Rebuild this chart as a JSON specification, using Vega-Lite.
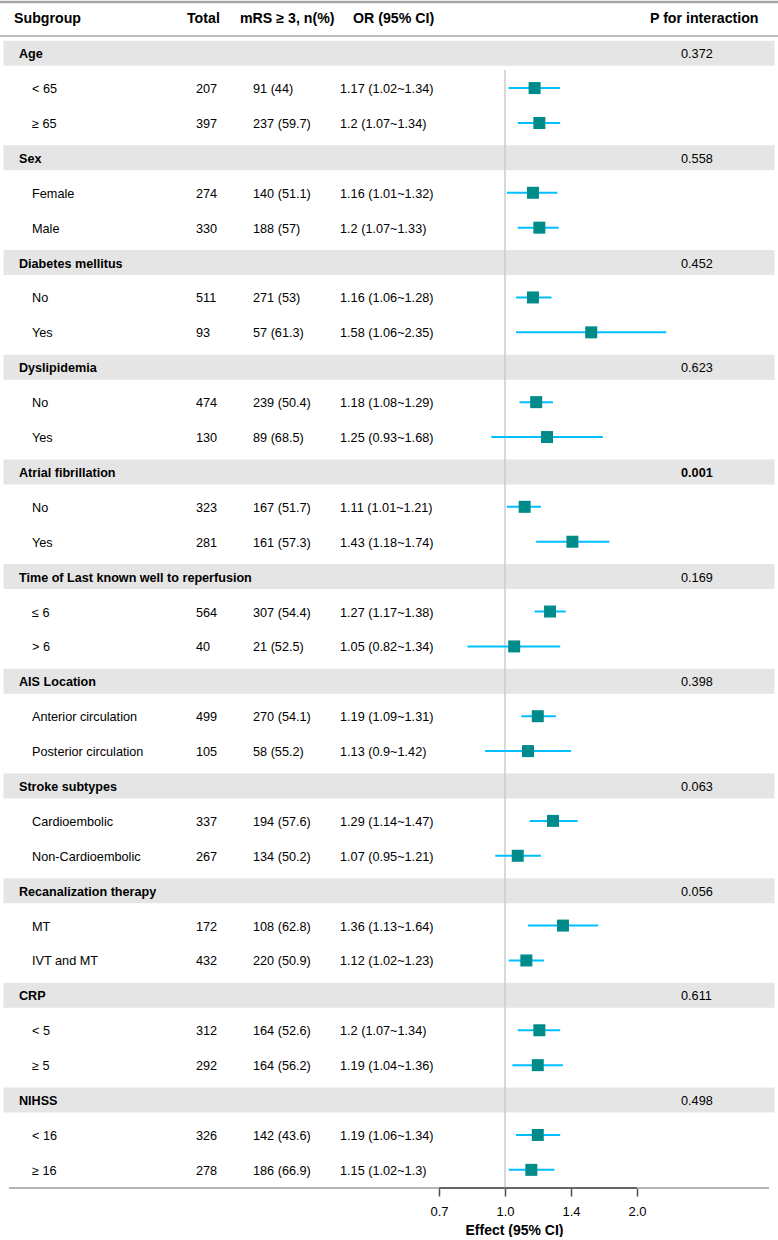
{
  "$schema": "https://vega.github.io/schema/vega-lite/v6.json",
  "width": 778,
  "height": 1188,
  "padding": 0,
  "background": "white",
  "config": {
    "view": {"stroke": null},
    "text": {"font": "Liberation Sans", "dy": 1},
    "axis": {"labelFont": "Liberation Sans", "titleFont": "Liberation Sans"}
  },
  "data": {
    "values": [
      {"row": 0, "kind": "header", "label": "Subgroup", "total": "Total", "mrs": "mRS ≥ 3, n(%)", "ortext": "OR (95% CI)", "p": "P for interaction"},
      {"row": 1, "kind": "group", "label": "Age", "p": "0.372"},
      {"row": 2, "kind": "item", "label": "< 65", "total": 207, "mrs": "91 (44)", "ortext": "1.17 (1.02~1.34)", "or": 1.17, "lo": 1.02, "hi": 1.34},
      {"row": 3, "kind": "item", "label": "≥ 65", "total": 397, "mrs": "237 (59.7)", "ortext": "1.2 (1.07~1.34)", "or": 1.2, "lo": 1.07, "hi": 1.34},
      {"row": 4, "kind": "group", "label": "Sex", "p": "0.558"},
      {"row": 5, "kind": "item", "label": "Female", "total": 274, "mrs": "140 (51.1)", "ortext": "1.16 (1.01~1.32)", "or": 1.16, "lo": 1.01, "hi": 1.32},
      {"row": 6, "kind": "item", "label": "Male", "total": 330, "mrs": "188 (57)", "ortext": "1.2 (1.07~1.33)", "or": 1.2, "lo": 1.07, "hi": 1.33},
      {"row": 7, "kind": "group", "label": "Diabetes mellitus", "p": "0.452"},
      {"row": 8, "kind": "item", "label": "No", "total": 511, "mrs": "271 (53)", "ortext": "1.16 (1.06~1.28)", "or": 1.16, "lo": 1.06, "hi": 1.28},
      {"row": 9, "kind": "item", "label": "Yes", "total": 93, "mrs": "57 (61.3)", "ortext": "1.58 (1.06~2.35)", "or": 1.58, "lo": 1.06, "hi": 2.35},
      {"row": 10, "kind": "group", "label": "Dyslipidemia", "p": "0.623"},
      {"row": 11, "kind": "item", "label": "No", "total": 474, "mrs": "239 (50.4)", "ortext": "1.18 (1.08~1.29)", "or": 1.18, "lo": 1.08, "hi": 1.29},
      {"row": 12, "kind": "item", "label": "Yes", "total": 130, "mrs": "89 (68.5)", "ortext": "1.25 (0.93~1.68)", "or": 1.25, "lo": 0.93, "hi": 1.68},
      {"row": 13, "kind": "group", "label": "Atrial fibrillation", "p": "0.001"},
      {"row": 14, "kind": "item", "label": "No", "total": 323, "mrs": "167 (51.7)", "ortext": "1.11 (1.01~1.21)", "or": 1.11, "lo": 1.01, "hi": 1.21},
      {"row": 15, "kind": "item", "label": "Yes", "total": 281, "mrs": "161 (57.3)", "ortext": "1.43 (1.18~1.74)", "or": 1.43, "lo": 1.18, "hi": 1.74},
      {"row": 16, "kind": "group", "label": "Time of Last known well to reperfusion", "p": "0.169"},
      {"row": 17, "kind": "item", "label": "≤ 6", "total": 564, "mrs": "307 (54.4)", "ortext": "1.27 (1.17~1.38)", "or": 1.27, "lo": 1.17, "hi": 1.38},
      {"row": 18, "kind": "item", "label": "> 6", "total": 40, "mrs": "21 (52.5)", "ortext": "1.05 (0.82~1.34)", "or": 1.05, "lo": 0.82, "hi": 1.34},
      {"row": 19, "kind": "group", "label": "AIS Location", "p": "0.398"},
      {"row": 20, "kind": "item", "label": "Anterior circulation", "total": 499, "mrs": "270 (54.1)", "ortext": "1.19 (1.09~1.31)", "or": 1.19, "lo": 1.09, "hi": 1.31},
      {"row": 21, "kind": "item", "label": "Posterior circulation", "total": 105, "mrs": "58 (55.2)", "ortext": "1.13 (0.9~1.42)", "or": 1.13, "lo": 0.9, "hi": 1.42},
      {"row": 22, "kind": "group", "label": "Stroke subtypes", "p": "0.063"},
      {"row": 23, "kind": "item", "label": "Cardioembolic", "total": 337, "mrs": "194 (57.6)", "ortext": "1.29 (1.14~1.47)", "or": 1.29, "lo": 1.14, "hi": 1.47},
      {"row": 24, "kind": "item", "label": "Non-Cardioembolic", "total": 267, "mrs": "134 (50.2)", "ortext": "1.07 (0.95~1.21)", "or": 1.07, "lo": 0.95, "hi": 1.21},
      {"row": 25, "kind": "group", "label": "Recanalization therapy", "p": "0.056"},
      {"row": 26, "kind": "item", "label": "MT", "total": 172, "mrs": "108 (62.8)", "ortext": "1.36 (1.13~1.64)", "or": 1.36, "lo": 1.13, "hi": 1.64},
      {"row": 27, "kind": "item", "label": "IVT and MT", "total": 432, "mrs": "220 (50.9)", "ortext": "1.12 (1.02~1.23)", "or": 1.12, "lo": 1.02, "hi": 1.23},
      {"row": 28, "kind": "group", "label": "CRP", "p": "0.611"},
      {"row": 29, "kind": "item", "label": "< 5", "total": 312, "mrs": "164 (52.6)", "ortext": "1.2 (1.07~1.34)", "or": 1.2, "lo": 1.07, "hi": 1.34},
      {"row": 30, "kind": "item", "label": "≥ 5", "total": 292, "mrs": "164 (56.2)", "ortext": "1.19 (1.04~1.36)", "or": 1.19, "lo": 1.04, "hi": 1.36},
      {"row": 31, "kind": "group", "label": "NIHSS", "p": "0.498"},
      {"row": 32, "kind": "item", "label": "< 16", "total": 326, "mrs": "142 (43.6)", "ortext": "1.19 (1.06~1.34)", "or": 1.19, "lo": 1.06, "hi": 1.34},
      {"row": 33, "kind": "item", "label": "≥ 16", "total": 278, "mrs": "186 (66.9)", "ortext": "1.15 (1.02~1.3)", "or": 1.15, "lo": 1.02, "hi": 1.3}
    ]
  },
  "encoding": {
    "y": {"field": "row", "type": "quantitative", "scale": {"domain": [-0.524, 33.52], "reverse": true, "nice": false, "zero": false}, "axis": null}
  },
  "layer": [
    {
      "layer": [
        {"transform": [{"filter": "datum.kind === 'group'"}], "mark": {"type": "tick", "orient": "horizontal", "thickness": 25, "size": 771, "color": "#e5e5e5", "opacity": 1}},
        {"transform": [{"filter": "datum.kind === 'header'"}], "mark": {"type": "tick", "orient": "horizontal", "thickness": 2.5, "size": 778, "color": "#a6a6a6", "opacity": 1}, "encoding": {"y": {"datum": -0.47, "type": "quantitative"}}},
        {"transform": [{"filter": "datum.kind === 'header'"}], "mark": {"type": "tick", "orient": "horizontal", "thickness": 2, "size": 778, "color": "#bfbfbf", "opacity": 1}, "encoding": {"y": {"datum": 0.507, "type": "quantitative"}}},
        {"transform": [{"filter": "datum.kind === 'header'"}], "mark": {"type": "tick", "orient": "horizontal", "thickness": 2, "size": 760, "color": "#b3b3b3", "opacity": 1}, "encoding": {"y": {"datum": 33.52, "type": "quantitative"}}},
        {"transform": [{"filter": "datum.kind === 'header'"}], "mark": {"type": "rule", "strokeWidth": 1.5, "color": "#4d4d4d"},
         "encoding": {
           "x": {"datum": 0.7047, "type": "quantitative", "scale": {"type": "log", "domain": [0.06872, 4.2537], "nice": false, "zero": false}},
           "x2": {"datum": 2.0138},
           "y": {"datum": 33.52, "type": "quantitative"}}},
        {"transform": [{"filter": "datum.kind === 'header'"}], "mark": {"type": "rule", "strokeWidth": 1.5, "color": "#cccccc"},
         "encoding": {
           "x": {"datum": 1, "type": "quantitative"},
           "y": {"datum": 1.48, "type": "quantitative"},
           "y2": {"datum": 33.5}}},
        {"transform": [{"filter": "datum.kind === 'item'"}], "mark": {"type": "rule", "strokeWidth": 2, "color": "#00bfff"},
         "encoding": {
           "x": {"field": "lo", "type": "quantitative",
                 "axis": {"orient": "bottom", "values": [0.7047, 1, 1.4191, 2.0138], "labelExpr": "format(datum.value, '.1f')", "domain": false, "grid": false, "ticks": true, "tickSize": 8, "tickWidth": 1.5, "tickColor": "#4d4d4d", "labelFontSize": 13, "labelColor": "#000000", "labelPadding": 9, "labelFlush": false, "title": "Effect (95% CI)", "titleFontSize": 14, "titleFontWeight": "bold", "titleColor": "#000000", "titlePadding": 5, "titleX": 514}},
           "x2": {"field": "hi"}}},
        {"transform": [{"filter": "datum.kind === 'item'"}], "mark": {"type": "point", "shape": "square", "filled": true, "size": 144, "color": "#008b8b", "opacity": 1},
         "encoding": {"x": {"field": "or", "type": "quantitative"}}}
      ]
    },
    {
      "encoding": {
        "x": {"datum": 0, "type": "quantitative", "scale": {"domain": [0, 1], "nice": false, "zero": false}, "axis": null}
      },
      "layer": [
        {"transform": [{"filter": "datum.kind === 'header'"}], "mark": {"type": "text", "align": "left", "baseline": "middle", "dx": 14, "fontSize": 14.2, "fontWeight": "bold", "color": "#000000"}, "encoding": {"text": {"field": "label", "type": "nominal"}}},
        {"transform": [{"filter": "datum.kind === 'header'"}], "mark": {"type": "text", "align": "left", "baseline": "middle", "dx": 187, "fontSize": 14.2, "fontWeight": "bold", "color": "#000000"}, "encoding": {"text": {"field": "total", "type": "nominal"}}},
        {"transform": [{"filter": "datum.kind === 'header'"}], "mark": {"type": "text", "align": "left", "baseline": "middle", "dx": 240, "fontSize": 14.2, "fontWeight": "bold", "color": "#000000"}, "encoding": {"text": {"field": "mrs", "type": "nominal"}}},
        {"transform": [{"filter": "datum.kind === 'header'"}], "mark": {"type": "text", "align": "left", "baseline": "middle", "dx": 353, "fontSize": 14.2, "fontWeight": "bold", "color": "#000000"}, "encoding": {"text": {"field": "ortext", "type": "nominal"}}},
        {"transform": [{"filter": "datum.kind === 'header'"}], "mark": {"type": "text", "align": "left", "baseline": "middle", "dx": 650, "fontSize": 14.2, "fontWeight": "bold", "color": "#000000"}, "encoding": {"text": {"field": "p", "type": "nominal"}}},
        {"transform": [{"filter": "datum.kind === 'group'"}], "mark": {"type": "text", "align": "left", "baseline": "middle", "dx": 19, "fontSize": 12.6, "fontWeight": "bold", "color": "#000000"}, "encoding": {"text": {"field": "label", "type": "nominal"}}},
        {"transform": [{"filter": "datum.kind === 'group' && datum.p !== '0.001'"}], "mark": {"type": "text", "align": "left", "baseline": "middle", "dx": 681, "fontSize": 12.7, "color": "#000000"}, "encoding": {"text": {"field": "p", "type": "nominal"}}},
        {"transform": [{"filter": "datum.kind === 'group' && datum.p === '0.001'"}], "mark": {"type": "text", "align": "left", "baseline": "middle", "dx": 681, "fontSize": 12.7, "fontWeight": "bold", "color": "#000000"}, "encoding": {"text": {"field": "p", "type": "nominal"}}},
        {"transform": [{"filter": "datum.kind === 'item'"}], "mark": {"type": "text", "align": "left", "baseline": "middle", "dx": 32, "fontSize": 12.7, "color": "#000000"}, "encoding": {"text": {"field": "label", "type": "nominal"}}},
        {"transform": [{"filter": "datum.kind === 'item'"}], "mark": {"type": "text", "align": "left", "baseline": "middle", "dx": 196, "fontSize": 12.7, "color": "#000000"}, "encoding": {"text": {"field": "total", "type": "nominal"}}},
        {"transform": [{"filter": "datum.kind === 'item'"}], "mark": {"type": "text", "align": "left", "baseline": "middle", "dx": 253, "fontSize": 12.7, "color": "#000000"}, "encoding": {"text": {"field": "mrs", "type": "nominal"}}},
        {"transform": [{"filter": "datum.kind === 'item'"}], "mark": {"type": "text", "align": "left", "baseline": "middle", "dx": 340, "fontSize": 12.7, "color": "#000000"}, "encoding": {"text": {"field": "ortext", "type": "nominal"}}}
      ]
    }
  ],
  "resolve": {"scale": {"x": "independent"}}
}
